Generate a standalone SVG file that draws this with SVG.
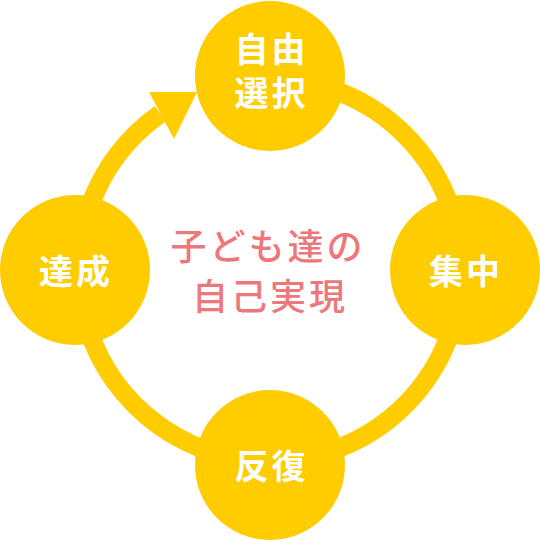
<svg xmlns="http://www.w3.org/2000/svg" width="540" height="540" viewBox="0 0 540 540">
<style>
.node{fill:#FFCC00}
.nt{fill:#FFFFFF;font-family:"Noto Sans CJK JP","Noto Sans",sans-serif;font-size:34px;font-weight:700;text-anchor:middle;letter-spacing:3px}
.ct{fill:#EC787C;font-family:"Noto Sans CJK JP","Noto Sans",sans-serif;font-size:36px;font-weight:500;text-anchor:middle;letter-spacing:3px}
.ring{fill:none;stroke:#FFCC00;stroke-width:19}
</style>
<rect width="540" height="540" fill="#FFFFFF"/>
<g id="connectors">
<path class="ring" d="M270,79 A191,191 0 0 1 270,461 A191,191 0 0 1 160.2,113.7"/>
<polygon points="149,92 197,92 174,139" fill="#FFCC00"/>
</g>
<g id="node-jiyu">
<circle class="node" cx="270" cy="76" r="75"/>
<text class="nt" x="271.5" y="62">自由</text>
<text class="nt" x="271.5" y="106">選択</text>
</g>
<g id="node-shuchu">
<circle class="node" cx="465" cy="270" r="75"/>
<text class="nt" x="466" y="284">集中</text>
</g>
<g id="node-hanpuku">
<circle class="node" cx="270" cy="465" r="75"/>
<text class="nt" x="271.5" y="479">反復</text>
</g>
<g id="node-tassei">
<circle class="node" cx="75" cy="270" r="75"/>
<text class="nt" x="76" y="284">達成</text>
</g>
<g id="center">
<text class="ct" x="268" y="260">子ども達の</text>
<text class="ct" x="270" y="310">自己実現</text>
</g>
</svg>
